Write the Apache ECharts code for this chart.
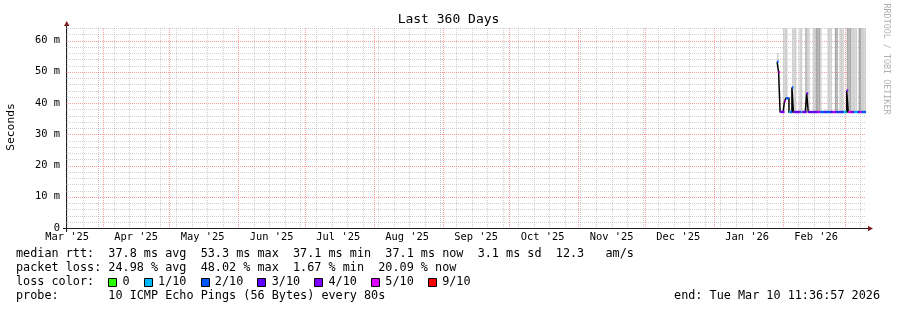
<!DOCTYPE html>
<html><head><meta charset="utf-8">
<script src="https://cdn.jsdelivr.net/npm/echarts@6/dist/echarts.min.js"></script>
<style>html,body{margin:0;padding:0;background:#fff}#c{width:897px;height:310px}</style>
</head><body><div id="c"></div>
<script>
// ---------------- data ----------------
const chartTitle = 'Last 360 Days';
const endStamp = [2026, 3, 10, 11, 36, 57];   // local time of "end"
const spanDays = 360;
const sampleStepHours = 16;                    // RRD consolidation step
const yMaxMs = 64;
const yLabelValues = [0, 10, 20, 30, 40, 50, 60];
const monthNames = ['Jan','Feb','Mar','Apr','May','Jun','Jul','Aug','Sep','Oct','Nov','Dec'];

// median RTT per consolidated sample (ms), last 60 samples up to "end"
const medianMs = [53.2,49.9,37.2,37.1,37.1,40.6,41.5,41.5,37.1,37.1,
                  45.0,37.1,37.1,37.1,37.1,37.1,37.1,37.1,37.1,37.1,
                  43.1,37.1,37.1,37.1,37.1,37.1,37.1,37.1,37.1,37.1,
                  37.1,37.1,37.1,37.1,37.1,37.1,37.1,37.1,37.1,37.1,
                  37.1,37.1,37.1,37.1,37.1,37.1,37.1,44.0,37.1,37.1,
                  37.1,37.1,37.1,37.1,37.1,37.1,37.1,37.1,37.1,37.1];
// lost pings out of 10 per sample
const lossTenths = [2,5,4,4,4,5,2,2,1,2,
                    2,4,4,3,4,4,1,4,4,4,
                    4,3,3,4,4,3,4,4,5,2,
                    2,2,3,2,2,2,3,4,5,3,
                    2,3,2,3,2,1,1,4,5,5,
                    4,4,1,1,2,4,5,2,2,2];
// top of the smoke (ping spread) per sample, ms (null = no smoke)
const smokeTopMs = [56,null,null,null,90,90,90,null,null,null,
                    90,90,90,null,null,90,90,null,null,90,
                    90,90,null,null,90,90,90,90,90,90,
                    null,null,null,null,90,90,90,null,null,90,
                    90,null,90,90,90,null,null,90,90,90,
                    90,90,90,90,null,90,90,90,90,90];
// smoke density class per sample (1 = sparse, 2 = dense)
const smokeDensity = [1,0,0,0,1,1,1,0,0,0,
                      1,1,1,0,0,1,1,0,0,2,
                      1,1,0,0,1,1,2,2,2,1,
                      0,0,0,0,1,1,1,0,0,2,
                      2,0,1,1,1,0,0,2,2,2,
                      1,1,1,1,0,2,2,1,1,1];

const lossLegendLabels = ['0','1/10','2/10','3/10','4/10','5/10','9/10'];
const lossLegendColors = ['#26ff00','#00b8ff','#0059ff','#5e00ff','#7e00ff','#dd00ff','#ff0000'];
const rttStats  = ['37.8 ms avg','53.3 ms max','37.1 ms min','37.1 ms now','3.1 ms sd','12.3   am/s'];
const lossStats = ['24.98 % avg','48.02 % max','1.67 % min','20.09 % now'];
const probeText = '10 ICMP Echo Pings (56 Bytes) every 80s';
const endText = 'end: Tue Mar 10 11:36:57 2026';
const watermark = 'RRDTOOL / TOBI OETIKER';

// ---------------- derived ----------------
const DAY = 86400000;
const endT = Date.UTC(endStamp[0], endStamp[1]-1, endStamp[2], endStamp[3], endStamp[4], endStamp[5]);
const startT = endT - spanDays*DAY;
const stepMs = sampleStepHours*3600000;
const N = medianMs.length;
const tOf = i => endT - (N - i)*stepMs;

function lossColor(l){
  if (l <= 0) return lossLegendColors[0];
  if (l >= 9) return lossLegendColors[6];
  if (l >= 5) return lossLegendColors[5];
  return lossLegendColors[l];
}

// month starts, mid-months, sundays
const monthStarts = [], midMonths = [], sundays = [];
{
  const s = new Date(startT);
  let y = s.getUTCFullYear(), m = s.getUTCMonth();
  for (let k = 0; k < 15; k++) {
    const ms = Date.UTC(y, m, 1), mid = Date.UTC(y, m, 16);
    if (ms > startT && ms < endT) monthStarts.push(ms);
    if (mid >= startT && mid <= endT) midMonths.push(mid);
    m++; if (m > 11) { m = 0; y++; }
  }
  let d = Date.UTC(s.getUTCFullYear(), s.getUTCMonth(), s.getUTCDate());
  while (new Date(d).getUTCDay() !== 0 || d < startT) d += DAY;
  for (; d < endT; d += 7*DAY) sundays.push(d);
}
const gridVData = sundays.filter(t => monthStarts.indexOf(t) < 0).map(t => [t, 0])
  .concat(monthStarts.map(t => [t, 1]));
const gridHData = [];
for (let v = 2; v <= yMaxMs; v += 2) gridHData.push([startT, v, v % 10 === 0 ? 1 : 0]);
gridHData.sort((a, b) => a[2] - b[2]);

const smokeData = [], medianSegData = [], medianLine = [];
for (let i = 0; i < N; i++) {
  const t0 = tOf(i), t1 = tOf(i+1);
  if (smokeTopMs[i] != null) smokeData.push([t0, t1, medianMs[i], smokeTopMs[i], smokeDensity[i]]);
  medianSegData.push([t0, t1, medianMs[i], lossTenths[i]]);
  medianLine.push([t0, medianMs[i]], [t1, medianMs[i]]);
}

// ---------------- layout ----------------
const MONO = '"DejaVu Sans Mono", monospace';
const G = {left: 66, top: 28, width: 800, height: 200};
const AX_FONT = 10.4, LEG_FONT = 11.8;
const cw = (() => { const c = document.createElement('canvas').getContext('2d'); c.font = LEG_FONT + 'px "DejaVu Sans Mono"'; return c.measureText('0').width; })();
const LX = 16;
const GRID_GREY = 'rgba(150,150,150,0.45)';
const GRID_RED = 'rgba(235,60,60,0.5)';
const AXIS_COL = '#1f1f1f', ARROW_COL = '#801f1f';

function txt(text, x, y, size, opts) {
  opts = opts || {};
  return {type:'text', x:x, y:y, rotation: opts.rot || 0, silent:true, z: 10,
    style:{text:text, x:0, y:0, font: size + 'px ' + MONO, fill: opts.fill || '#000',
      align: opts.align || 'left', verticalAlign: 'middle', textAlign: opts.align || 'left', textVerticalAlign: 'middle'}};
}
const graphics = [];
graphics.push(txt(chartTitle, 448.5, 20, 13, {align:'center'}));
graphics.push(txt('Seconds', 11, 127, 11.3, {align:'center', rot: Math.PI/2}));
graphics.push(txt(watermark, 886, 59, 8.4, {align:'center', rot: -Math.PI/2, fill:'#b0b0b0'}));
graphics.push(txt('median rtt:  ' + rttStats.join('  '), LX, 254, LEG_FONT));
graphics.push(txt('packet loss: ' + lossStats.join('  '), LX, 268, LEG_FONT));
graphics.push(txt('loss color:', LX, 282, LEG_FONT));
{
  let c = 13;
  lossLegendLabels.forEach((lab, k) => {
    graphics.push({type:'rect', silent:true, z:10, shape:{x: Math.round(LX + c*cw) + 0.5, y: 278.5, width: 8, height: 8},
      style:{fill: lossLegendColors[k], stroke:'#000', lineWidth:1}});
    graphics.push(txt(lab, LX + (c+2)*cw, 282, LEG_FONT));
    c += 2 + lab.length + 2;
  });
}
graphics.push(txt('probe:       ' + probeText, LX, 296, LEG_FONT));
graphics.push(txt(endText, 880, 296, LEG_FONT, {align:'right'}));
// axis extensions + arrows
const gx0 = G.left, gy0 = G.top + G.height, gx1 = G.left + G.width;
graphics.push({type:'line', silent:true, z:5, shape:{x1:gx0+0.5, y1:gy0, x2:gx0+0.5, y2:gy0+4}, style:{stroke:AXIS_COL, lineWidth:1}});
graphics.push({type:'line', silent:true, z:5, shape:{x1:gx0+0.5, y1:G.top, x2:gx0+0.5, y2:G.top-2}, style:{stroke:AXIS_COL, lineWidth:1}});
graphics.push({type:'line', silent:true, z:5, shape:{x1:gx0-3, y1:gy0+0.5, x2:gx0, y2:gy0+0.5}, style:{stroke:AXIS_COL, lineWidth:1}});
graphics.push({type:'line', silent:true, z:5, shape:{x1:gx1, y1:gy0+0.5, x2:gx1+3, y2:gy0+0.5}, style:{stroke:AXIS_COL, lineWidth:1}});
graphics.push({type:'polygon', silent:true, z:6, shape:{points:[[gx0-2, G.top-2],[gx0+3.5, G.top-2],[gx0+0.75, G.top-7]]}, style:{fill:ARROW_COL}});
graphics.push({type:'polygon', silent:true, z:6, shape:{points:[[gx1+2, gy0-2.2],[gx1+2, gy0+3.2],[gx1+7, gy0+0.5]]}, style:{fill:ARROW_COL}});

function xLabel(v) {
  const d = new Date(v);
  return monthNames[d.getUTCMonth()] + " '" + String(d.getUTCFullYear()).slice(2);
}

const option = {
  animation: false,
  backgroundColor: '#fff',
  grid: {left:G.left, top:G.top, width:G.width, height:G.height, containLabel:false},
  xAxis: {type:'value', min:startT, max:endT,
      axisLine:{show:true, onZero:false, lineStyle:{color:AXIS_COL, width:1}},
      axisTick:{show:false},
      splitLine:{show:false},
      axisLabel:{show:true, customValues: midMonths, formatter: xLabel, margin:4,
        fontFamily:'DejaVu Sans Mono', fontSize:AX_FONT, color:'#000'}},
  yAxis: {type:'value', min:0, max:yMaxMs,
      axisLine:{show:true, onZero:false, lineStyle:{color:AXIS_COL, width:1}},
      axisTick:{show:false},
      splitLine:{show:false},
      axisLabel:{show:true, customValues: yLabelValues, margin:6,
        formatter: v => v === 0 ? '0' : (v + ' m'),
        fontFamily:'DejaVu Sans Mono', fontSize:AX_FONT, color:'#000'}},
  series: [
    {type:'custom', name:'vgrid', clip:false, z:1, silent:true,
      data: gridVData, encode:{x:0},
      renderItem: function(params, api) {
        const cs = params.coordSys;
        const x = Math.round(api.coord([api.value(0), 0])[0]) + 0.5;
        return {type:'line', shape:{x1:x, y1:cs.y, x2:x, y2:cs.y + cs.height},
          style:{stroke: api.value(1) ? GRID_RED : GRID_GREY, lineWidth:1, lineDash:[1,1]}};
      }},
    {type:'custom', name:'hgrid', clip:false, z:1, silent:true,
      data: gridHData, encode:{x:0, y:1},
      renderItem: function(params, api) {
        const cs = params.coordSys;
        const y = Math.round(api.coord([api.value(0), api.value(1)])[1]) + 0.5;
        return {type:'line', shape:{x1:cs.x, y1:y, x2:cs.x + cs.width, y2:y},
          style:{stroke: api.value(2) ? GRID_RED : GRID_GREY, lineWidth:1, lineDash:[1,1]}};
      }},
    {type:'custom', name:'smoke', clip:true, z:2, silent:true,
      data: smokeData, encode:{x:[0,1], y:[2,3]},
      renderItem: function(params, api) {
        const p0 = api.coord([api.value(0), api.value(3)]);
        const p1 = api.coord([api.value(1), api.value(2)]);
        return {type:'rect', shape:{x:p0[0], y:p0[1], width:p1[0]-p0[0], height:p1[1]-p0[1]},
          style:{fill: api.value(4) === 2 ? '#a8a8a8' : '#cfcfcf'}};
      }},
    {type:'line', name:'median', z:3, silent:true, smooth:false,
      data: medianLine, symbol:'none', lineStyle:{color:'#000', width:1.5, join:'miter'}},
    {type:'custom', name:'loss', clip:true, z:4, silent:true,
      data: medianSegData, encode:{x:[0,1], y:[2]},
      renderItem: function(params, api) {
        const p0 = api.coord([api.value(0), api.value(2)]);
        const p1 = api.coord([api.value(1), api.value(2)]);
        return {type:'rect', shape:{x:p0[0], y:p0[1]-1.2, width:p1[0]-p0[0], height:2.4},
          style:{fill: lossColor(api.value(3))}};
      }}
  ],
  graphic: graphics
};
const chart = echarts.init(document.getElementById('c'), null, {renderer:'canvas'});
chart.setOption(option);
</script></body></html>
